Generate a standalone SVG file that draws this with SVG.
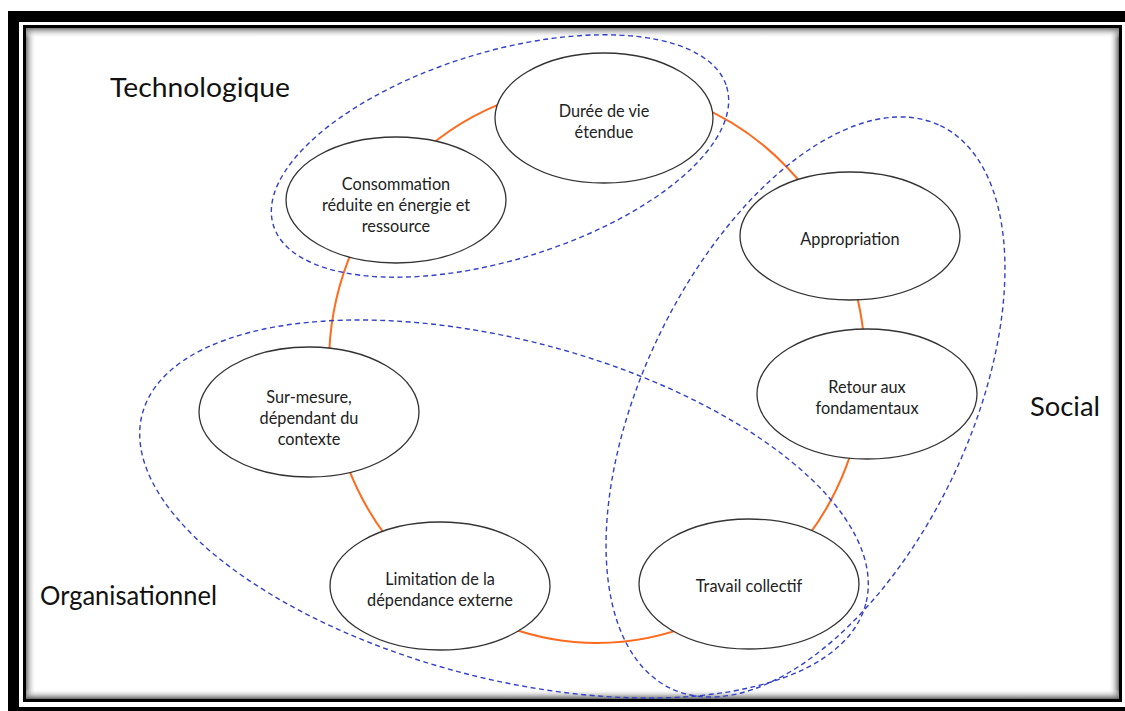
<svg xmlns="http://www.w3.org/2000/svg" width="1125" height="711" viewBox="0 0 1125 711">
  <defs>
    <linearGradient id="gL" x1="0" y1="0" x2="1" y2="0"><stop offset="0" stop-color="#777"/><stop offset="1" stop-color="#fff" stop-opacity="0"/></linearGradient>
    <linearGradient id="gR" x1="1" y1="0" x2="0" y2="0"><stop offset="0" stop-color="#666"/><stop offset="1" stop-color="#fff" stop-opacity="0"/></linearGradient>
    <linearGradient id="gT" x1="0" y1="0" x2="0" y2="1"><stop offset="0" stop-color="#777"/><stop offset="1" stop-color="#fff" stop-opacity="0"/></linearGradient>
    <linearGradient id="gB" x1="0" y1="1" x2="0" y2="0"><stop offset="0" stop-color="#666"/><stop offset="1" stop-color="#fff" stop-opacity="0"/></linearGradient>
  </defs>
  <style>
    .node ellipse { fill: #ffffff; stroke: #333333; stroke-width: 1.3; }
    .node text { font-family: "Lato", "Open Sans", sans-serif; font-size: 16.3px; fill: #222222; text-anchor: middle; }
    .group { fill: none; stroke: #3340C8; stroke-width: 1.4; stroke-dasharray: 5 3.5; }
    .ring { fill: none; stroke: #FF6A1F; stroke-width: 2; }
    .label { font-family: "Lato", "Open Sans", sans-serif; font-size: 26.5px; fill: #111111; }
  </style>
  <rect x="0" y="0" width="1125" height="711" fill="#ffffff"/>
  <!-- frame -->
  <g id="frame">
    <rect x="13.5" y="16.5" width="1130" height="696" fill="none" stroke="#000" stroke-width="11"/>
    <rect x="26" y="28" width="10" height="672" fill="url(#gL)"/>
    <rect x="1109" y="28" width="10" height="672" fill="url(#gR)"/>
    <rect x="26" y="28" width="1093" height="10" fill="url(#gT)"/>
    <rect x="26" y="689" width="1093" height="10" fill="url(#gB)"/>
    <rect x="24.5" y="26.5" width="1096" height="674" fill="none" stroke="#000" stroke-width="3"/>
  </g>
  <!-- connectors -->
  <g id="connectors">
    <ellipse class="ring" cx="597" cy="364" rx="268" ry="279"/>
    <ellipse class="group" cx="0" cy="0" rx="237" ry="104" transform="translate(500 156) rotate(-17)"/>
    <ellipse class="group" cx="0" cy="0" rx="312" ry="163" transform="translate(805.5 407) rotate(-64.4)"/>
    <ellipse class="group" cx="0" cy="0" rx="374" ry="169" transform="translate(504 509) rotate(14.7)"/>
  </g>
  <!-- group labels -->
  <g id="labels">
    <text class="label" x="110" y="97" textLength="180" lengthAdjust="spacingAndGlyphs">Technologique</text>
    <text class="label" x="1030" y="416" textLength="70" lengthAdjust="spacingAndGlyphs">Social</text>
    <text class="label" x="40" y="605" textLength="177" lengthAdjust="spacingAndGlyphs">Organisationnel</text>
  </g>
  <!-- nodes -->
  <g id="node-duree" class="node">
    <ellipse cx="604" cy="118" rx="109" ry="65"/>
    <text x="604" y="117">Durée de vie</text>
    <text x="604" y="138">étendue</text>
  </g>
  <g id="node-consommation" class="node">
    <ellipse cx="396" cy="200" rx="110" ry="63"/>
    <text x="396" y="190">Consommation</text>
    <text x="396" y="211">réduite en énergie et</text>
    <text x="396" y="232">ressource</text>
  </g>
  <g id="node-appropriation" class="node">
    <ellipse cx="850" cy="236" rx="110" ry="64"/>
    <text x="850" y="245">Appropriation</text>
  </g>
  <g id="node-retour" class="node">
    <ellipse cx="867" cy="394" rx="110" ry="65"/>
    <text x="867" y="393">Retour aux</text>
    <text x="867" y="414">fondamentaux</text>
  </g>
  <g id="node-travail" class="node">
    <ellipse cx="749" cy="584" rx="110" ry="65"/>
    <text x="749" y="592">Travail collectif</text>
  </g>
  <g id="node-limitation" class="node">
    <ellipse cx="440" cy="586" rx="110" ry="64"/>
    <text x="440" y="585">Limitation de la</text>
    <text x="440" y="606">dépendance externe</text>
  </g>
  <g id="node-surmesure" class="node">
    <ellipse cx="309" cy="412" rx="110" ry="65"/>
    <text x="309" y="403">Sur-mesure,</text>
    <text x="309" y="424">dépendant du</text>
    <text x="309" y="445">contexte</text>
  </g>
</svg>
